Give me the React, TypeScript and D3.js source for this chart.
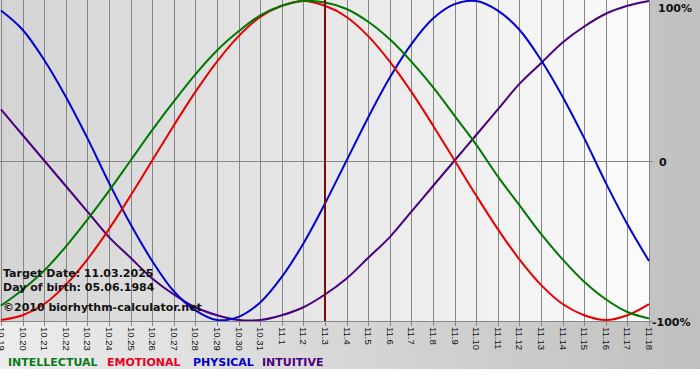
import React from "react";
import * as d3 from "d3";

const dayLabels = [
  "10.19", "10.20", "10.21", "10.22", "10.23", "10.24", "10.25", "10.26", "10.27", "10.28",
  "10.29", "10.30", "10.31", "11.1", "11.2", "11.3", "11.4", "11.5", "11.6", "11.7",
  "11.8", "11.9", "11.10", "11.11", "11.12", "11.13", "11.14", "11.15", "11.16", "11.17", "11.18",
];

const intellectual = [
  -0.91, -0.81, -0.69, -0.54, -0.37, -0.19, 0, 0.19, 0.37, 0.54, 0.69, 0.81, 0.91, 0.97, 1.0, 0.99,
  0.95, 0.87, 0.76, 0.62, 0.46, 0.28, 0.1, -0.1, -0.28, -0.46, -0.62, -0.76, -0.87, -0.95, -0.99,
];
const emotional = [
  -1.0, -0.97, -0.9, -0.78, -0.62, -0.43, -0.22, 0, 0.22, 0.43, 0.62, 0.78, 0.9, 0.97, 1.0, 0.97,
  0.9, 0.78, 0.62, 0.43, 0.22, 0, -0.22, -0.43, -0.62, -0.78, -0.9, -0.97, -1.0, -0.97, -0.9,
];
const physical = [
  0.94, 0.82, 0.63, 0.4, 0.14, -0.14, -0.4, -0.63, -0.82, -0.94, -1.0, -0.98, -0.89, -0.73, -0.52, -0.27,
  0, 0.27, 0.52, 0.73, 0.89, 0.98, 1.0, 0.94, 0.82, 0.63, 0.4, 0.14, -0.14, -0.4, -0.63,
];
const intuitive = [
  0.32, 0.16, 0, -0.16, -0.32, -0.48, -0.61, -0.74, -0.84, -0.92, -0.97, -1.0, -1.0, -0.97, -0.92, -0.84,
  -0.74, -0.61, -0.48, -0.32, -0.16, 0, 0.16, 0.32, 0.48, 0.61, 0.74, 0.84, 0.92, 0.97, 1.0,
];

const seriesNames = ["INTELLECTUAL", "EMOTIONAL", "PHYSICAL", "INTUITIVE"];
const yTickLabels = ["100%", "0", "-100%"];
const yTickValues = [1, 0, -1];
const targetIndex = 15;
const infoLines = ["Target Date: 11.03.2025", "Day of birth: 05.06.1984", "\u00A92010 biorhythm-calculator.net"];

const W = 700;
const H = 380;
const plotLeft = 0;
const plotRight = 650;
const plotTop = 0;
const plotBottom = 321;

export default function App() {
  const x = d3.scaleLinear().domain([0, dayLabels.length - 1]).range([1, 649]);
  const y = d3.scaleLinear().domain([-1, 1]).range([320, 1]);

  const line = d3
    .line<number>()
    .x((_, i) => x(i))
    .y((d) => y(d))
    .curve(d3.curveCatmullRom.alpha(0.5));

  const series = [
    { name: seriesNames[3], data: intuitive, color: "#48007f" },
    { name: seriesNames[2], data: physical, color: "#0000d8" },
    { name: seriesNames[1], data: emotional, color: "#e80000" },
    { name: seriesNames[0], data: intellectual, color: "#007800" },
  ];

  const legendX = [8, 107, 193, 262];
  const legendColors = ["#0a7a1a", "#e8001c", "#0000c8", "#4a0080"];
  const yLabelX = [658, 659, 652];
  const yLabelBase = [12, 166, 326];

  const px = (v: number) => Math.round(v) + 0.5;

  return (
    <svg
      width={W}
      height={H}
      style={{ position: "absolute", left: 0, top: 0, display: "block" }}
      fontFamily="'DejaVu Sans', Verdana, sans-serif"
    >
      <defs>
        <linearGradient id="bgGrad" x1="0" x2="1" y1="0" y2="0">
          <stop offset="0%" stopColor="#ececec" />
          <stop offset="100%" stopColor="#c0c0c0" />
        </linearGradient>
        <linearGradient id="plotGrad" x1="0" x2="1" y1="0" y2="0">
          <stop offset="0%" stopColor="#d4d4d4" />
          <stop offset="100%" stopColor="#fbfbfb" />
        </linearGradient>
        <clipPath id="plotClip">
          <rect x={plotLeft} y={plotTop} width={plotRight - plotLeft} height={plotBottom - plotTop} />
        </clipPath>
      </defs>
      <rect x={0} y={0} width={W} height={H} fill="#ffffff" />
      <rect x={0} y={0} width={W} height={369} fill="url(#bgGrad)" />
      <rect x={plotLeft} y={plotTop} width={plotRight - plotLeft} height={plotBottom - plotTop} fill="url(#plotGrad)" />

      {/* vertical grid */}
      {dayLabels.map((d, i) => (
        <line key={"g" + d} x1={px(x(i))} x2={px(x(i))} y1={0} y2={plotBottom + 5} stroke="#868686" strokeWidth={1} />
      ))}
      {/* zero line and bottom axis */}
      <line x1={0} x2={plotRight + 3} y1={px(y(0))} y2={px(y(0))} stroke="#868686" strokeWidth={1} />
      <line x1={0} x2={plotRight + 3} y1={plotBottom + 0.5} y2={plotBottom + 0.5} stroke="#868686" strokeWidth={1} />

      <g clipPath="url(#plotClip)">
        {series.map((s) => (
          <path key={s.name} d={line(s.data) || ""} fill="none" stroke={s.color} strokeWidth={2} />
        ))}
      </g>

      {/* target line */}
      <line x1={x(targetIndex)} x2={x(targetIndex)} y1={0} y2={plotBottom} stroke="#7a0a0a" strokeWidth={2} />

      {/* x labels */}
      {dayLabels.map((d, i) => (
        <text
          key={"l" + d}
          transform={`translate(${px(x(i))},327) rotate(90)`}
          dy="0.36em"
          fontFamily="'Liberation Sans', Arial, sans-serif"
          fontSize={9.5}
          fill="#111"
        >
          {d}
        </text>
      ))}

      {/* y labels */}
      {yTickLabels.map((t, i) => (
        <text key={"y" + t} x={yLabelX[i]} y={yLabelBase[i]} fontSize={11} fontWeight="bold" fill="#111">
          {t}
        </text>
      ))}

      {/* info text */}
      {infoLines.map((t, i) => (
        <text key={"i" + i} x={3} y={[277, 291, 311][i]} fontSize={11} fontWeight="bold" fill="#111">
          {t}
        </text>
      ))}

      {/* legend */}
      {seriesNames.map((n, i) => (
        <text key={"lg" + n} x={legendX[i]} y={366} fontSize={11} fontWeight="bold" fill={legendColors[i]}>
          {n}
        </text>
      ))}
    </svg>
  );
}
